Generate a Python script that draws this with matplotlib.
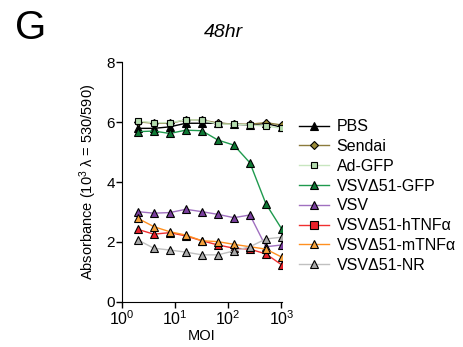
import matplotlib
matplotlib.use("Agg")
import matplotlib.pyplot as plt
from matplotlib.lines import Line2D

plt.rcParams['font.family'] = ['Liberation Sans', 'DejaVu Sans']
plt.rcParams['mathtext.fontset'] = 'custom'
plt.rcParams['mathtext.rm'] = 'Liberation Sans'
plt.rcParams['mathtext.it'] = 'Liberation Sans:italic'

# MOI values
moi = [2, 4, 8, 16, 32, 64, 128, 256, 512, 1024]

pbs = [5.79, 5.79, 5.84, 5.96, 5.96, 5.96, 5.93, 5.90, 5.96, 5.82]
sendai = [6.01, 5.96, 5.96, 6.07, 6.07, 5.97, 5.93, 5.93, 5.98, 5.90]
ad_gfp = [6.03, 5.98, 5.98, 6.07, 6.07, 5.93, 5.93, 5.90, 5.87, 5.79]
vsv51_gfp = [5.68, 5.70, 5.62, 5.73, 5.71, 5.40, 5.23, 4.64, 3.27, 2.42]
vsv = [3.01, 2.96, 2.98, 3.09, 3.01, 2.92, 2.81, 2.90, 1.84, 1.90]
vsv51_htnf = [2.42, 2.26, 2.31, 2.20, 2.04, 1.90, 1.79, 1.76, 1.60, 1.23]
vsv51_mtnf = [2.79, 2.51, 2.34, 2.23, 2.04, 2.01, 1.92, 1.84, 1.76, 1.49]
vsv51_nr = [2.07, 1.79, 1.73, 1.66, 1.57, 1.57, 1.70, 1.84, 2.10, 2.16]

labels = ['PBS', 'Sendai', 'Ad-GFP', 'VSV\u039451-GFP', 'VSV',
          'VSV\u039451-hTNF\u03b1', 'VSV\u039451-mTNF\u03b1', 'VSV\u039451-NR']
series = [pbs, sendai, ad_gfp, vsv51_gfp, vsv, vsv51_htnf, vsv51_mtnf, vsv51_nr]
# (line colour, marker face, marker, size, legend marker)
styles = [
    ('#000000', '#000000', '^', 5.5, '^'),
    ('#8c7b3c', '#9c8c3a', 'D', 4.2, 'D'),
    ('#c8e6c0', '#b4dcae', 's', 5.0, 's'),
    ('#1f9a4e', '#0f7a35', '^', 6, '^'),
    ('#a070c0', '#7a3f9e', '^', 6, '^'),
    ('#f03030', '#e8202a', '^', 6, 's'),
    ('#ff9020', '#f6a23c', '^', 6, '^'),
    ('#c0c0c0', '#a9a9a9', '^', 6, '^'),
]

fig = plt.figure(figsize=(4.63, 3.47), dpi=100)
ax = fig.add_axes([0.263, 0.130, 0.346, 0.691])

# draw back-to-front so the top cluster looks like the original
for i in [7, 6, 5, 4, 3, 2, 1, 0]:
    lc, fc, mk, ms, lmk = styles[i]
    ax.plot(moi, series[i], color=lc, lw=1.0, marker=mk, ms=ms,
            mfc=fc, mec='black', mew=0.8, zorder=3 + i * 0.1)

handles = []
for i in range(len(labels)):
    lc, fc, mk, ms, lmk = styles[i]
    handles.append(Line2D([], [], color=lc, lw=1.0, marker=lmk, ms=ms,
                          mfc=fc, mec='black', mew=0.8, label=labels[i]))

ax.set_xscale('log')
ax.set_xlim(1, 1024)
ax.set_ylim(0, 8)
ax.set_yticks([0, 2, 4, 6, 8])
ax.set_xticks([1, 10, 100, 1000])
ax.set_xticklabels(['10$^0$', '10$^1$', '10$^2$', '10$^3$'])
ax.spines['top'].set_visible(False)
ax.spines['right'].set_visible(False)
ax.tick_params(axis='y', labelsize=11, length=4, width=1, pad=1)
ax.tick_params(axis='x', labelsize=11.5, length=4, width=1, pad=1.5)
ax.tick_params(which='minor', length=2.5, width=0.8)
ax.set_xlabel('MOI', fontsize=10.5, labelpad=0.5)
ax.set_ylabel('Absorbance (10$^3$ \u03bb = 530/590)', fontsize=10.5, labelpad=5)

fig.legend(handles=handles, loc='upper left', bbox_to_anchor=(0.632, 0.675),
           frameon=False, fontsize=11.5, handlelength=1.9, handletextpad=0.45,
           labelspacing=0.3, borderaxespad=0)

fig.text(0.482, 0.905, '48hr', fontsize=14, style='italic', ha='center', va='center')
fig.text(0.033, 0.92, 'G', fontsize=29, ha='left', va='center')

fig.savefig('out.png', dpi=100)
